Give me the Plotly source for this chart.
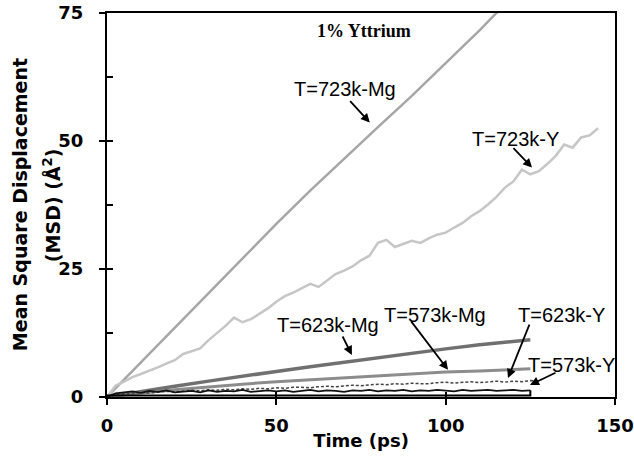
import plotly.graph_objects as go

# Sampling times (ps)
t_coarse = [0, 10, 20, 30, 40, 50, 60, 70, 80, 90, 100, 110, 115, 120, 125]
t_smooth = [0, 10, 20, 30, 40, 50, 60, 70, 80, 90, 100, 110, 120, 125]
t_fine = [0, 2.5, 5, 7.5, 10, 12.5, 15, 17.5, 20, 22.5,
          25, 27.5, 30, 32.5, 35, 37.5, 40, 42.5, 45, 47.5,
          50, 52.5, 55, 57.5, 60, 62.5, 65, 67.5, 70, 72.5,
          75, 77.5, 80, 82.5, 85, 87.5, 90, 92.5, 95, 97.5,
          100, 102.5, 105, 107.5, 110, 112.5, 115, 117.5, 120, 122.5,
          125, 127.5, 130, 132.5, 135, 137.5, 140, 142.5, 145]

# MSD (Å^2) for each run
msd_723_mg = [0, 6.8, 13.6, 20.4, 27.1, 33.8, 40.3, 46.6, 52.7, 58.8,
              65.2, 71.6, 75.0, 78.3, 81.5]
msd_723_y = [0, 2.2, 3.0, 3.9, 4.5, 5.1, 5.8, 6.5, 7.2, 8.4,
             9.0, 9.5, 11.1, 12.5, 13.9, 15.5, 14.6, 15.2, 16.2, 17.3,
             18.6, 19.7, 20.4, 21.3, 22.1, 21.5, 22.8, 24.0, 24.7, 25.5,
             26.7, 27.6, 30.1, 30.7, 29.3, 29.9, 30.5, 30.1, 31.0, 31.7,
             32.1, 33.1, 34.0, 35.3, 36.3, 37.6, 39.1, 40.9, 42.1, 44.4,
             43.5, 44.1, 45.5, 47.1, 49.3, 48.7, 50.7, 51.1, 52.5]
msd_623_mg = [0, 1.1, 2.1, 3.1, 4.1, 5.0, 5.9, 6.8, 7.7, 8.6, 9.4, 10.2, 10.9, 11.2]
msd_573_mg = [0, 0.8, 1.4, 2.0, 2.5, 3.0, 3.4, 3.8, 4.2, 4.6, 4.9, 5.1, 5.4, 5.5]
msd_623_y = [0, 0.4, 0.6, 0.7, 0.9, 0.8, 1.0, 1.1, 1.0, 1.2,
             1.3, 1.2, 1.4, 1.3, 1.5, 1.4, 1.6, 1.5, 1.7, 1.6,
             1.8, 1.7, 1.9, 1.9, 1.8, 2.0, 2.1, 2.0, 2.2, 2.3,
             2.2, 2.4, 2.5, 2.4, 2.6, 2.5, 2.7, 2.6, 2.6, 2.8,
             2.9, 2.7, 2.9, 3.0, 2.8, 3.0, 3.1, 2.9, 3.1, 3.0,
             3.2, 3.1]
msd_573_y = [0, 0.7, 0.9, 1.1, 0.8, 1.2, 1.0, 1.3, 0.9, 1.1,
             1.2, 0.9, 1.3, 1.0, 1.2, 1.1, 1.4, 1.0, 1.2, 1.3,
             1.1, 1.3, 1.0, 1.2, 1.4, 1.1, 1.3, 1.2, 1.0, 1.3,
             1.2, 1.4, 1.1, 1.3, 1.2, 1.4, 1.1, 1.3, 1.2, 1.4,
             1.3, 1.1, 1.4, 1.2, 1.3, 1.4, 1.2, 1.3, 1.4, 1.2,
             1.3]
t_base = [0, 25, 50, 75, 100, 125, 125]
msd_base = [0.3, 0.3, 0.3, 0.35, 0.3, 0.3, 1.3]

# Curve labels: (text, label x, label y, arrow tip x, arrow tip y, tail dx px, tail dy px)
labels = [
    ("T=723k-Mg", 70.3, 60.1, 77.6, 53.6, -21, -23),
    ("T=723k-Y", 120.5, 50.3, 125.5, 44.8, -20, -21),
    ("T=623k-Mg", 65.2, 14.1, 72.3, 8.2, -10, -20),
    ("T=573k-Mg", 96.8, 16.1, 100.7, 5.3, -38, -50),
    ("T=623k-Y", 134.3, 16.1, 118.4, 3.7, 22, -55),
    ("T=573k-Y", 137.3, 6.3, 124.9, 2.35, 27, -13),
]

fig = go.Figure()


def add_line(x, y, color, width, dash="solid"):
    fig.add_trace(go.Scatter(x=x, y=y, mode="lines",
                             line=dict(color=color, width=width, dash=dash),
                             showlegend=False, hoverinfo="skip"))


add_line(t_coarse, msd_723_mg, "#a6a6a6", 2.5)
add_line(t_fine, msd_723_y, "#c6c6c6", 2.5)
add_line(t_smooth, msd_623_mg, "#707070", 3.5)
add_line(t_smooth, msd_573_mg, "#8c8c8c", 3)
add_line(t_fine[:len(msd_623_y)], msd_623_y, "#444444", 1.5, "3px,2px")
add_line(t_fine[:len(msd_573_y)], msd_573_y, "#111111", 1.8)
add_line(t_base, msd_base, "#000000", 2)

# helper traces so the inner-tick overlay axes are drawn
fig.add_trace(go.Scatter(x=[0], y=[0], xaxis="x2", yaxis="y", mode="markers",
                         marker=dict(opacity=0), showlegend=False, hoverinfo="skip"))
fig.add_trace(go.Scatter(x=[0], y=[0], xaxis="x", yaxis="y2", mode="markers",
                         marker=dict(opacity=0), showlegend=False, hoverinfo="skip"))

annotations = []
for text, lx, ly, hx, hy, dx, dy in labels:
    annotations.append(dict(x=lx, y=ly, xref="x", yref="y", text=text, showarrow=False,
                            font=dict(family="Liberation Sans, Arial", size=20, color="#000"),
                            xanchor="center", yanchor="middle"))
    annotations.append(dict(x=hx, y=hy, xref="x", yref="y", text="", showarrow=True,
                            ax=dx, ay=dy, arrowhead=2, arrowsize=1, arrowwidth=1.8,
                            arrowcolor="#000", standoff=0))

annotations.append(dict(x=75.9, y=71.5, xref="x", yref="y", text="<b>1% Yttrium</b>",
                        showarrow=False, xanchor="center", yanchor="middle",
                        font=dict(family="Liberation Serif, Times New Roman", size=18, color="#000")))

# two-line rotated y-axis title
annotations.append(dict(x=-0.171, y=0.5, xref="paper", yref="paper",
                        text="<b>Mean Square Displacement</b>", textangle=-90, showarrow=False,
                        xanchor="center", yanchor="middle",
                        font=dict(family="DejaVu Sans", size=19, color="#000")))
annotations.append(dict(x=-0.108, y=0.5, xref="paper", yref="paper",
                        text="<b>(MSD) (Å<sup>2</sup>)</b>", textangle=-90, showarrow=False,
                        xanchor="center", yanchor="middle",
                        font=dict(family="DejaVu Sans", size=19, color="#000")))

tick_font = dict(family="DejaVu Sans", size=18, color="#000", weight="bold")

fig.update_layout(
    width=634, height=464,
    margin=dict(l=107, r=19, t=13, b=67),
    paper_bgcolor="white", plot_bgcolor="white",
    annotations=annotations,
    xaxis=dict(range=[0, 150], tickvals=[0, 50, 100, 150], ticks="outside", ticklen=6,
               tickwidth=2, tickcolor="#000", showline=True, linewidth=2, linecolor="#000",
               mirror=True, showgrid=False, zeroline=False, tickfont=tick_font,
               ticklabelstandoff=5, automargin=False,
               title=dict(text="<b>Time (ps)</b>", standoff=0,
                          font=dict(family="DejaVu Sans", size=18, color="#000"))),
    xaxis2=dict(range=[0, 150], tickvals=[0, 50, 100, 150], ticks="inside", ticklen=5,
                tickwidth=2, tickcolor="#000", overlaying="x", anchor="y", side="bottom",
                showticklabels=False, showline=False, showgrid=False, zeroline=False,
                automargin=False),
    yaxis=dict(range=[0, 75], tickvals=[0, 25, 50, 75], ticks="outside", ticklen=6,
               tickwidth=2, tickcolor="#000", showline=True, linewidth=2, linecolor="#000",
               mirror=True, showgrid=False, zeroline=False, tickfont=tick_font,
               ticklabelstandoff=12, automargin=False),
    yaxis2=dict(range=[0, 75], tickvals=[0, 12.5, 25, 37.5, 50, 62.5, 75], ticks="inside",
                ticklen=6, tickwidth=2, tickcolor="#000", overlaying="y", anchor="x",
                side="left", showticklabels=False, showline=False, showgrid=False,
                zeroline=False, automargin=False),
)

fig.write_html("out.html")
